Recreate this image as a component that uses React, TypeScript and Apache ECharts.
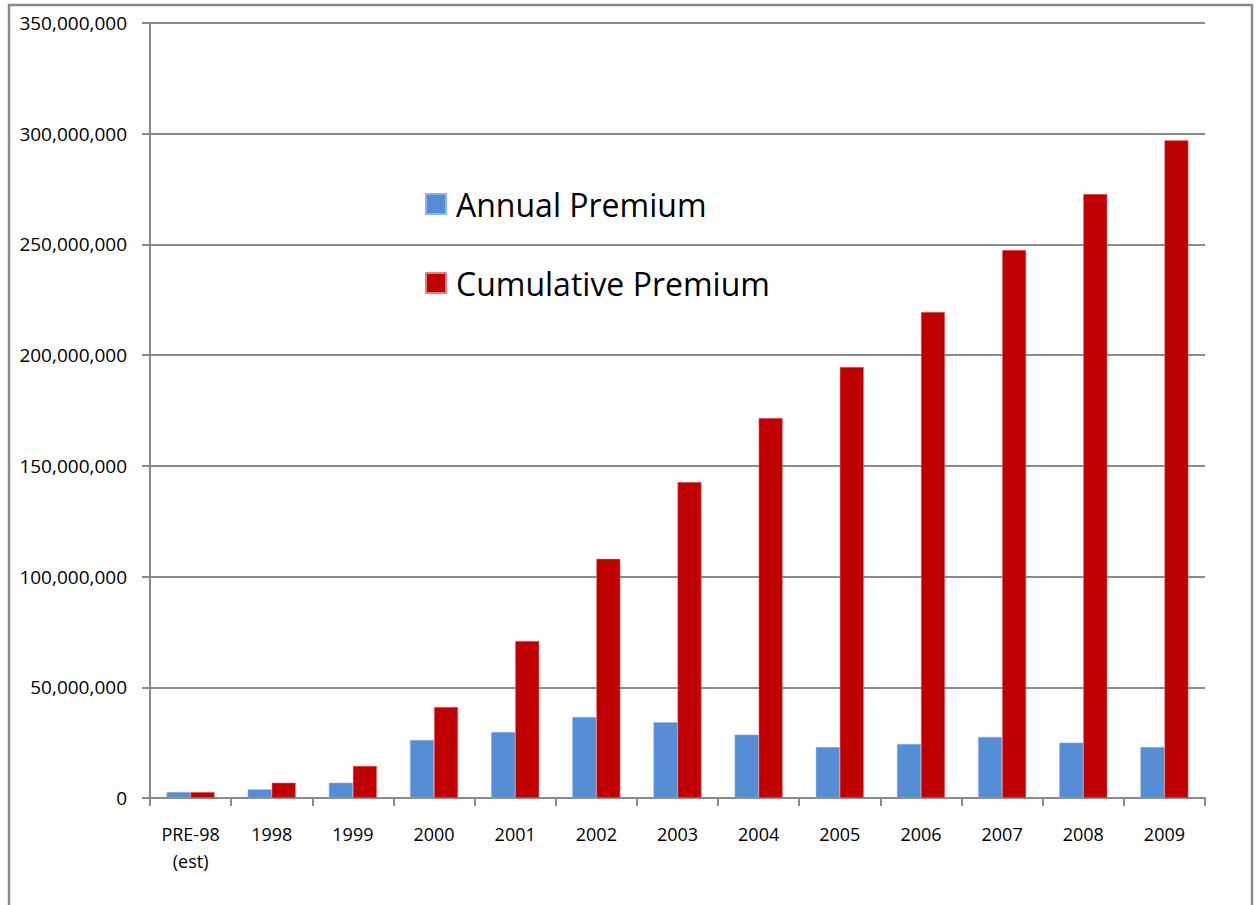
import React, { useEffect, useRef } from "react";
import * as echarts from "echarts";

const categories = ["PRE-98\n(est)", "1998", "1999", "2000", "2001", "2002", "2003", "2004", "2005", "2006", "2007", "2008", "2009"];
const annualPremium = [2.7, 3.9, 6.9, 26.2, 29.8, 36.6, 34.2, 28.6, 23.0, 24.4, 27.6, 25.0, 23.0].map((v) => v * 1e6);
const cumulativePremium = [2.7, 6.9, 14.5, 41.1, 70.9, 108.0, 142.7, 171.6, 194.7, 219.5, 247.5, 272.8, 297.0].map((v) => v * 1e6);
const yTicks = { min: 0, max: 350000000, interval: 50000000 };

const FONT = "'Open Sans', 'Noto Sans', sans-serif";
const GRAY = "#8a8a8a";

export default function App() {
  const ref = useRef<HTMLDivElement>(null);
  useEffect(() => {
    if (!ref.current) return;
    const chart = echarts.init(ref.current, undefined, { renderer: "svg" });
    chart.setOption({
      animation: false,
      backgroundColor: "#ffffff",
      textStyle: { fontFamily: FONT },
      graphic: [
        {
          type: "rect",
          shape: { x: 9, y: 5, width: 1243, height: 920 },
          style: { fill: "none", stroke: GRAY, lineWidth: 2.5 },
          silent: true,
        },
      ],
      legend: {
        orient: "vertical",
        left: 425,
        top: 188,
        padding: 0,
        itemWidth: 20,
        itemHeight: 20,
        itemGap: 47,
        icon: "rect",
        textStyle: { fontSize: 32, lineHeight: 32, color: "#000", fontFamily: FONT, padding: [0, 0, 0, 5] },
        data: ["Annual Premium", "Cumulative Premium"],
      },
      grid: { left: 150, right: 53, top: 23, bottom: 107, containLabel: false },
      xAxis: {
        type: "category",
        data: categories,
        axisLine: { show: true, lineStyle: { color: GRAY, width: 2 } },
        axisTick: { show: true, alignWithLabel: false, length: 8, lineStyle: { color: GRAY, width: 2 } },
        axisLabel: { color: "#000", fontSize: 18, lineHeight: 27, margin: 22, fontFamily: FONT, interval: 0 },
      },
      yAxis: {
        type: "value",
        min: yTicks.min,
        max: yTicks.max,
        interval: yTicks.interval,
        axisLine: { show: true, lineStyle: { color: GRAY, width: 2 } },
        axisTick: { show: true, length: 8, lineStyle: { color: GRAY, width: 2 } },
        splitLine: { show: true, lineStyle: { color: GRAY, width: 2 } },
        axisLabel: {
          color: "#000",
          fontSize: 19,
          margin: 23,
          fontFamily: FONT,
          formatter: (v: number) => v.toLocaleString("en-US"),
        },
      },
      series: [
        {
          name: "Annual Premium",
          type: "bar",
          data: annualPremium,
          barWidth: 24,
          barGap: "0%",
          itemStyle: { color: "#558ED5", borderColor: "#8fb4e3", borderWidth: 0.5 },
        },
        {
          name: "Cumulative Premium",
          type: "bar",
          data: cumulativePremium,
          barWidth: 24,
          barGap: "0%",
          itemStyle: { color: "#C00000", borderColor: "#e08080", borderWidth: 0.5 },
        },
      ],
    });
    return () => chart.dispose();
  }, []);
  return <div ref={ref} style={{ position: "absolute", left: 0, top: 0, width: 1258, height: 905 }} />;
}
